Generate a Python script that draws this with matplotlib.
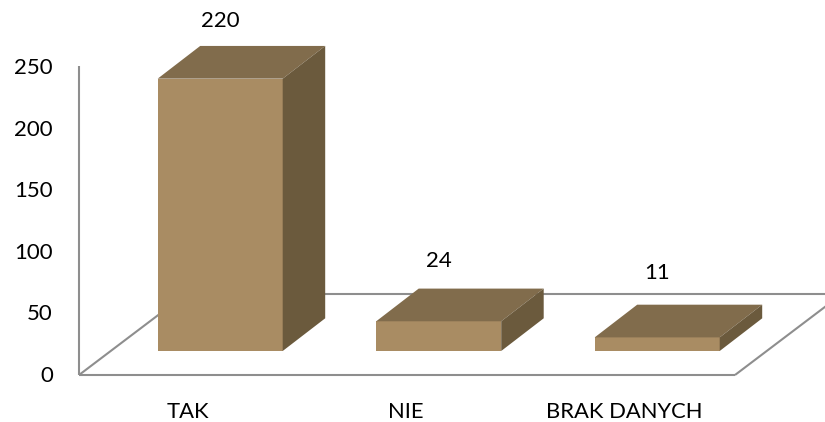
"""
Pseudo 3D bar chart, TAK / NIE / BRAK DANYCH
"""

import matplotlib
matplotlib.use("Agg")
import matplotlib.pyplot as plt
from matplotlib.patches import Polygon

categories = ["TAK", "NIE", "BRAK DANYCH"]
values = [220, 24, 11]
axis_ticks = [0, 50, 100, 150, 200, 250]

# chart layout, in figure pixels
WIDTH, HEIGHT = 825, 422
CAT_STEP = 218.5
FIRST_CENTER = 220.2
BAR_PX = 125.0
UNIT_PX = 1.238
LABEL_UNIT_PX = 1.228  # tick labels are spaced slightly tighter than the axis line
BASE_Y = 351.0
DEPTH_X = 42.5 / CAT_STEP
DEPTH_Y = 32.7 / UNIT_PX
FLOOR_DROP = 24.0 / UNIT_PX  # front floor edge sits below the bar bases
LABEL_RISE = [57.5, 60.5, 64.5]  # px above the bar front

FRONT = "#A98C63"
TOP = "#816C4C"
SIDE = "#6B5A3D"
AXIS = "#8E8E8E"
TEXT = "#000000"

plt.rcParams["font.family"] = ["Lato", "DejaVu Sans"]

fig = plt.figure(figsize=(WIDTH / 100, HEIGHT / 100), dpi=100)
ax = fig.add_axes([0, 0, 1, 1])
ax.set_xlim(-FIRST_CENTER / CAT_STEP, (WIDTH - FIRST_CENTER) / CAT_STEP)
ax.set_ylim((BASE_Y - HEIGHT) / UNIT_PX, BASE_Y / UNIT_PX)
ax.axis("off")

bar_w = BAR_PX / CAT_STEP
n = len(categories)

# wall and floor
wall_x = (79 - FIRST_CENTER) / CAT_STEP
floor_right = (735 - FIRST_CENTER) / CAT_STEP
wall_top = axis_ticks[-1] - FLOOR_DROP
back_y = -FLOOR_DROP + 81 / UNIT_PX
floor_dx = 107 / CAT_STEP
line_style = dict(color=AXIS, lw=1.5, solid_capstyle="butt", zorder=1)
ax.plot([wall_x, wall_x], [wall_top, -FLOOR_DROP], **line_style)
ax.plot([wall_x, floor_right], [-FLOOR_DROP, -FLOOR_DROP], **line_style)
ax.plot([wall_x, wall_x + floor_dx], [-FLOOR_DROP, back_y], **line_style)
ax.plot([floor_right, floor_right + floor_dx], [-FLOOR_DROP, back_y], **line_style)
ax.plot([wall_x + floor_dx, floor_right + floor_dx], [back_y, back_y], **line_style)

# bars: front from ax.bar, top and side as parallelograms
xs = list(range(n))
ax.bar(xs, values, width=bar_w, color=FRONT, linewidth=0, zorder=3)
for x, v, rise in zip(xs, values, LABEL_RISE):
    left, right = x - bar_w / 2, x + bar_w / 2
    ax.add_patch(Polygon(
        [(left, v), (right, v), (right + DEPTH_X, v + DEPTH_Y), (left + DEPTH_X, v + DEPTH_Y)],
        closed=True, facecolor=TOP, edgecolor="none", zorder=3))
    ax.add_patch(Polygon(
        [(right, 0), (right + DEPTH_X, DEPTH_Y), (right + DEPTH_X, v + DEPTH_Y), (right, v)],
        closed=True, facecolor=SIDE, edgecolor="none", zorder=3))
    ax.text(x, v + rise / UNIT_PX, str(v), ha="center", va="center",
            fontsize=16, color=TEXT, zorder=4)

# axis labels
for tick in axis_ticks:
    label_px = 375.5 - tick * LABEL_UNIT_PX
    ax.text((53 - FIRST_CENTER) / CAT_STEP, (BASE_Y - label_px) / UNIT_PX, str(tick),
            ha="right", va="center", fontsize=16, color=TEXT)

for x, name in zip(xs, categories):
    ax.text(x - 32.5 / CAT_STEP, -(412 - BASE_Y) / UNIT_PX, name,
            ha="center", va="center", fontsize=15.8, color=TEXT)

fig.savefig("out.png", dpi=100)
plt.close(fig)
